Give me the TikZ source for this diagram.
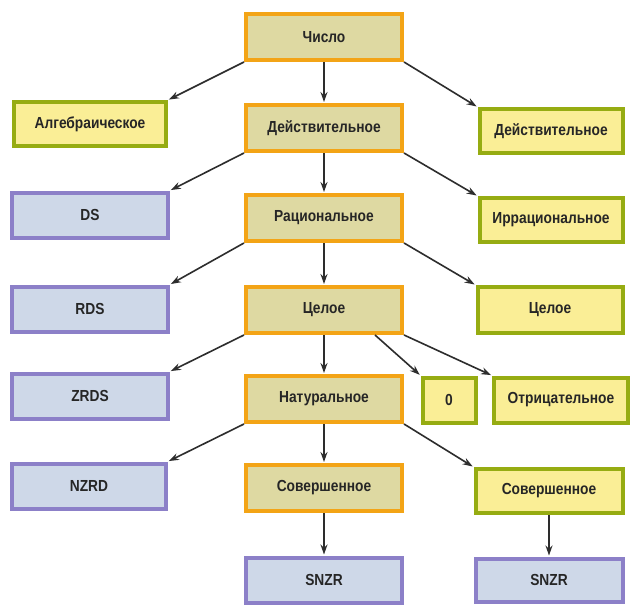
\documentclass[tikz,border=0pt]{standalone}
\usepackage{fontspec}
\setmainfont{Liberation Sans}[FakeStretch=0.86]
\usetikzlibrary{arrows.meta,calc}
\definecolor{orb}{RGB}{243,164,22}
\definecolor{orf}{RGB}{222,217,162}
\definecolor{grb}{RGB}{150,172,18}
\definecolor{grf}{RGB}{250,238,150}
\definecolor{blb}{RGB}{140,128,200}
\definecolor{blf}{RGB}{206,216,232}
\definecolor{arr}{RGB}{45,45,45}
\tikzset{
  box/.style={draw, line width=4pt, inner sep=0pt, font=\bfseries\fontsize{16}{18}\selectfont, text=black!85},
  obox/.style={box, draw=orb, fill=orf, minimum width=156, minimum height=46},
  gbox/.style={box, draw=grb, fill=grf, minimum width=143, minimum height=44},
  bbox/.style={box, draw=blb, fill=blf, minimum width=156, minimum height=45},
  con/.style={draw=arr, line width=1.6pt, -{Stealth[length=10pt,width=7pt]}, shorten >=1pt}
}
\begin{document}
\begin{tikzpicture}[x=1pt,y=-1pt]
\fill[white] (0,0) rectangle (633,605);
\useasboundingbox (0,0) rectangle (633,605);
% orange column
\node[obox] (chislo) at (324,37) {Число};
\node[obox] (dejs) at (324,128) {Действительное};
\node[obox] (rac) at (324,218) {Рациональное};
\node[obox] (cel) at (324,310) {Целое};
\node[obox] (nat) at (324,399) {Натуральное};
\node[obox] (sov) at (324,488) {Совершенное};
\node[bbox] (snzr) at (324,580) {SNZR};
% left blue
\node[gbox, minimum width=152] (alg) at (90,124) {Алгебраическое};
\node[bbox] (ds) at (90,215) {DS};
\node[bbox] (rds) at (90,309) {RDS};
\node[bbox] (zrds) at (90,396) {ZRDS};
\node[bbox, minimum width=154] (nzrd) at (89,486) {NZRD};
% right green
\node[gbox] (dejsr) at (551,131) {Действительное};
\node[gbox] (irr) at (551,220) {Иррациональное};
\node[gbox, minimum width=145, minimum height=46] (celr) at (550,310) {Целое};
\node[gbox, minimum width=53, minimum height=45] (zero) at (449,400) {0};
\node[gbox, minimum width=134, minimum height=45] (otr) at (561,400) {Отрицательное};
\node[gbox, minimum width=147] (sovr) at (549,491) {Совершенное};
\node[bbox, minimum width=147, minimum height=43] (snzrr) at (549,580) {SNZR};
% connectors
\draw[con] (chislo.south west) -- (alg.north east);
\draw[con] (chislo.south) -- (dejs.north);
\draw[con] (chislo.south east) -- (dejsr.north west);
\draw[con] (dejs.south west) -- (ds.north east);
\draw[con] (dejs.south) -- (rac.north);
\draw[con] (dejs.south east) -- (irr.north west);
\draw[con] (rac.south west) -- (rds.north east);
\draw[con] (rac.south) -- (cel.north);
\draw[con] (rac.south east) -- (celr.north west);
\draw[con] (cel.south west) -- (zrds.north east);
\draw[con] (cel.south) -- (nat.north);
\draw[con] ([xshift=51pt]cel.south) -- (zero.north west);
\draw[con] (cel.south east) -- (otr.north west);
\draw[con] (nat.south west) -- (nzrd.north east);
\draw[con] (nat.south) -- (sov.north);
\draw[con] (nat.south east) -- (sovr.north west);
\draw[con] (sov.south) -- (snzr.north);
\draw[con] (sovr.south) -- (snzrr.north);
\end{tikzpicture}
\end{document}
